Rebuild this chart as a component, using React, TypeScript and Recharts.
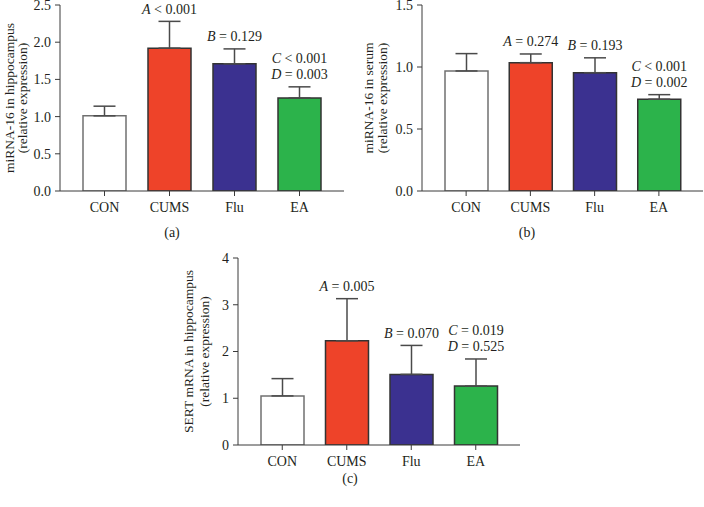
import React from 'react';
import { BarChart, Bar, XAxis, YAxis, Cell, ErrorBar, LabelList } from 'recharts';

const groups = ['CON', 'CUMS', 'Flu', 'EA'];

const hippoMean = [1.01, 1.92, 1.71, 1.25];
const hippoErr = [0.13, 0.36, 0.2, 0.15];
const hippoNotes = ['', 'A < 0.001', 'B = 0.129', 'C < 0.001|D = 0.003'];
const hippoTicks = [0, 0.5, 1, 1.5, 2, 2.5];

const serumMean = [0.968, 1.035, 0.954, 0.74];
const serumErr = [0.14, 0.07, 0.12, 0.037];
const serumNotes = ['', 'A = 0.274', 'B = 0.193', 'C < 0.001|D = 0.002'];
const serumTicks = [0, 0.5, 1, 1.5];

const sertMean = [1.05, 2.23, 1.51, 1.26];
const sertErr = [0.37, 0.9, 0.62, 0.58];
const sertNotes = ['', 'A = 0.005', 'B = 0.070', 'C = 0.019|D = 0.525'];
const sertTicks = [0, 1, 2, 3, 4];

const fills = ['#ffffff', '#ee4329', '#3b3190', '#2cb34b'];
const strokes = ['#707070', '#333333', '#333333', '#333333'];

const FONT = '"Liberation Serif", "DejaVu Serif", serif';
const TXT = '#231f20';
const AXIS = '#3a3a3a';

function build(means: number[], errs: number[], notes: string[]) {
  return groups.map((g, i) => ({ name: g, mean: means[i], err: [0, errs[i]], note: notes[i] }));
}

function NoteLine({ x, y, text }: { x: number; y: number; text: string }) {
  const letter = text.charAt(0);
  const rest = text.slice(1);
  return (
    <text x={x} y={y} textAnchor="middle" fontFamily={FONT} fontSize={14} fill={TXT}>
      <tspan fontStyle="italic">{letter}</tspan>
      <tspan>{rest}</tspan>
    </text>
  );
}

type PanelProps = {
  left: number;
  top: number;
  width: number;
  height: number;
  margin: { top: number; right: number; bottom: number; left: number };
  yWidth: number;
  domain: [number, number];
  ticks: number[];
  decimals: number;
  means: number[];
  errs: number[];
  notes: string[];
  yLabel1: string;
  yLabel2: string;
  labOff1: number;
  labOff2: number;
  tag: string;
  tagX: number;
  tagY: number;
};

function Panel(p: PanelProps) {
  const data = build(p.means, p.errs, p.notes);
  const renderNote = (props: any) => {
    const { x, y, width, height, value, index } = props;
    if (!value) return null;
    const m = p.means[index];
    const e = p.errs[index];
    const errTop = y - (e / m) * height;
    const lines = String(value).split('|');
    const cx = x + width / 2;
    const lastBase = errTop - 12.5 + 5;
    return (
      <g>
        {lines.map((ln, k) => (
          <NoteLine key={k} x={cx} y={lastBase - (lines.length - 1 - k) * 16} text={ln} />
        ))}
      </g>
    );
  };
  const renderYLabel = (props: any) => {
    const vb = props.viewBox;
    const axisX = vb.x + vb.width;
    const cy = vb.y + vb.height / 2;
    const x1 = axisX - p.labOff1;
    const x2 = axisX - p.labOff2;
    return (
      <g>
        <text x={x1} y={cy} transform={`rotate(-90, ${x1}, ${cy})`} textAnchor="middle" dominantBaseline="central" fontFamily={FONT} fontSize={13.5} fill={TXT}>
          {p.yLabel1}
        </text>
        <text x={x2} y={cy} transform={`rotate(-90, ${x2}, ${cy})`} textAnchor="middle" dominantBaseline="central" fontFamily={FONT} fontSize={13.5} fill={TXT}>
          {p.yLabel2}
        </text>
      </g>
    );
  };
  return (
    <div style={{ position: 'absolute', left: p.left, top: p.top, width: p.width, height: p.height }}>
      <BarChart width={p.width} height={p.height} data={data} margin={p.margin} barSize={43}>
        <XAxis
          dataKey="name"
          height={30}
          padding={{ left: 12, right: 12 }}
          stroke={AXIS}
          tickSize={5}
          tickMargin={6}
          tick={{ fontFamily: FONT, fontSize: 14, fill: TXT }}
          tickLine={{ stroke: AXIS }}
        />
        <YAxis
          width={p.yWidth}
          domain={p.domain}
          ticks={p.ticks}
          interval={0}
          allowDataOverflow
          stroke={AXIS}
          tickSize={5}
          tickMargin={4}
          tick={{ fontFamily: FONT, fontSize: 14, fill: TXT }}
          tickFormatter={(v: number) => v.toFixed(p.decimals)}
          label={{ content: renderYLabel }}
        />
        <Bar dataKey="mean" isAnimationActive={false} strokeWidth={1.5}>
          {data.map((d, i) => (
            <Cell key={d.name} fill={fills[i]} stroke={strokes[i]} />
          ))}
          <ErrorBar dataKey="err" direction="y" width={11} stroke="#4a4a4a" strokeWidth={1.5} isAnimationActive={false} />
          <LabelList dataKey="note" content={renderNote} />
        </Bar>
      </BarChart>
      <div
        style={{
          position: 'absolute',
          left: p.tagX - p.left - 30,
          top: p.tagY - p.top - 9,
          width: 60,
          textAlign: 'center',
          fontFamily: FONT,
          fontSize: 14,
          lineHeight: '18px',
          color: TXT,
        }}
      >
        {p.tag}
      </div>
    </div>
  );
}

export default function App() {
  return (
    <div style={{ position: 'absolute', left: 0, top: 0, width: 704, height: 507, background: '#ffffff', overflow: 'hidden' }}>
      <Panel
        left={0}
        top={0}
        width={350}
        height={250}
        margin={{ top: 5, right: 6, bottom: 29, left: 0 }}
        yWidth={60}
        domain={[0, 2.5]}
        ticks={hippoTicks}
        decimals={1}
        means={hippoMean}
        errs={hippoErr}
        notes={hippoNotes}
        yLabel1="miRNA-16 in hippocampus"
        yLabel2="(relative expression)"
        labOff1={51}
        labOff2={38}
        tag="(a)"
        tagX={172}
        tagY={233}
      />
      <Panel
        left={350}
        top={0}
        width={354}
        height={250}
        margin={{ top: 5, right: 1, bottom: 29, left: 0 }}
        yWidth={72}
        domain={[0, 1.5]}
        ticks={serumTicks}
        decimals={1}
        means={serumMean}
        errs={serumErr}
        notes={serumNotes}
        yLabel1="miRNA-16 in serum"
        yLabel2="(relative expression)"
        labOff1={54}
        labOff2={40}
        tag="(b)"
        tagX={527}
        tagY={233}
      />
      <Panel
        left={150}
        top={250}
        width={380}
        height={257}
        margin={{ top: 8, right: 10, bottom: 32, left: 0 }}
        yWidth={88}
        domain={[0, 4]}
        ticks={sertTicks}
        decimals={0}
        means={sertMean}
        errs={sertErr}
        notes={sertNotes}
        yLabel1="SERT mRNA in hippocampus"
        yLabel2="(relative expression)"
        labOff1={50}
        labOff2={34}
        tag="(c)"
        tagX={350}
        tagY={479}
      />
    </div>
  );
}
